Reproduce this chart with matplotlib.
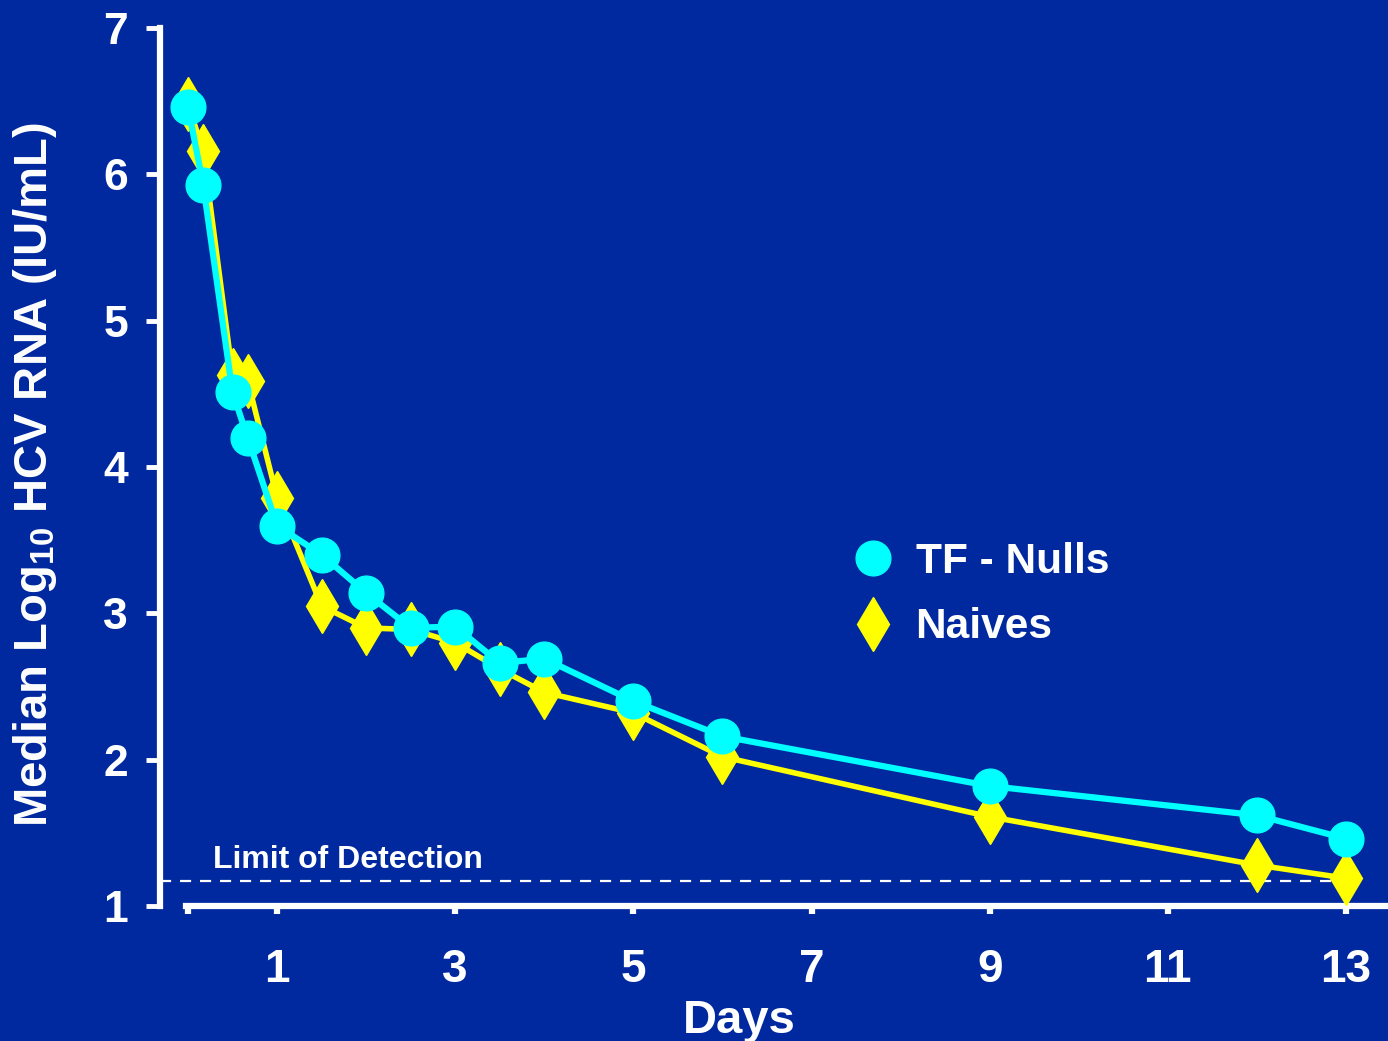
import matplotlib
matplotlib.use("Agg")
import matplotlib.pyplot as plt
from matplotlib.lines import Line2D

plt.rcParams['font.family'] = ['Liberation Sans', 'DejaVu Sans']
plt.rcParams['font.weight'] = 'bold'
plt.rcParams['mathtext.fontset'] = 'custom'
plt.rcParams['mathtext.rm'] = 'Liberation Sans:bold'
plt.rcParams['mathtext.bf'] = 'Liberation Sans:bold'
plt.rcParams['mathtext.it'] = 'Liberation Sans:bold'
plt.rcParams['mathtext.default'] = 'bf'

BG = "#0029A0"
CYAN = "#00FFFF"
YELLOW = "#FFFF00"

# ---- datos ----
days = [0, 0.17, 0.5, 0.67, 1, 1.5, 2, 2.5, 3, 3.5, 4, 5, 6, 9, 12, 13]
tf_nulls = [6.46, 5.93, 4.51, 4.20, 3.60, 3.40, 3.14, 2.90, 2.91, 2.66, 2.69,
            2.40, 2.16, 1.82, 1.62, 1.46]
naives = [6.48, 6.16, 4.63, 4.59, 3.79, 3.05, 2.90, 2.89, 2.80, 2.62, 2.46,
          2.32, 2.02, 1.61, 1.28, 1.19]
lod = 1.17

xticks = [0, 1, 3, 5, 7, 9, 11, 13]
xtick_labels = ["", "1", "3", "5", "7", "9", "11", "13"]
yticks = [1, 2, 3, 4, 5, 6, 7]

W, H = 1388, 1041
fig = plt.figure(figsize=(W / 100, H / 100), dpi=100)
fig.patch.set_facecolor(BG)

# ejes colocados en pixeles: spine izq x=160, abajo y=906, arriba y=28
ax = fig.add_axes([160 / W, (H - 906) / H, (W - 160) / W, (906 - 28) / H])
ax.set_facecolor(BG)

px_day = (1346 - 188) / 13.0
ax.set_xlim((160 - 188) / px_day, (W - 188) / px_day)
ax.set_ylim(1, 7)

ax.plot(days, naives, color=YELLOW, lw=4.0, marker="d", ms=28,
        mec=YELLOW, mfc=YELLOW, zorder=3, clip_on=False)
ax.plot(days, tf_nulls, color=CYAN, lw=4.5, marker="o", ms=25,
        mec=CYAN, mfc=CYAN, zorder=4, clip_on=False)

# limite de deteccion
ax.plot([ax.get_xlim()[0], days[-1]], [lod, lod], color="white", lw=1.6,
        ls=(0, (5, 4)), zorder=2)
ax.text(0.28, 1.26, "Limit of Detection", color="white", fontsize=23,
        fontweight="bold", va="baseline", ha="left")

# spines
for s in ("top", "right"):
    ax.spines[s].set_visible(False)
ax.spines["left"].set_color("white")
ax.spines["left"].set_linewidth(4.5)
ax.spines["left"].set_bounds(1, 7)
ax.spines["bottom"].set_color("white")
ax.spines["bottom"].set_linewidth(4.5)
ax.spines["bottom"].set_bounds(-0.02, ax.get_xlim()[1])

ax.set_xticks(xticks)
ax.set_xticklabels(xtick_labels)
ax.set_yticks(yticks)
ax.tick_params(axis="y", colors="white", length=10, width=3.5, pad=13,
               labelsize=32)
ax.tick_params(axis="x", colors="white", length=6, width=4.5, pad=24,
               labelsize=33)
for lab in ax.get_xticklabels() + ax.get_yticklabels():
    lab.set_fontweight("bold")

fig.text(739 / W, 1 - 1033 / H, "Days", color="white", fontsize=34,
         fontweight="bold", ha="center", va="baseline")
fig.text(35 / W, 1 - 475 / H, r"Median Log$_{10}$ HCV RNA (IU/mL)",
         color="white", fontsize=34, fontweight="bold", rotation=90,
         ha="center", va="center")

handles = [
    Line2D([], [], color=CYAN, marker="o", ms=25, ls="none"),
    Line2D([], [], color=YELLOW, marker="d", ms=28, ls="none"),
]
leg = ax.legend(handles, ["TF - Nulls", "Naives"], loc="upper left",
                bbox_to_anchor=(852 / W, 1 - 542 / H),
                bbox_transform=fig.transFigure, frameon=False,
                prop={"size": 30.5, "weight": "bold"}, handlelength=1.0,
                handletextpad=0.5, labelspacing=0.6, borderpad=0,
                borderaxespad=0, numpoints=1)
for t in leg.get_texts():
    t.set_color("white")

fig.savefig("out.png", dpi=100, facecolor=BG)
